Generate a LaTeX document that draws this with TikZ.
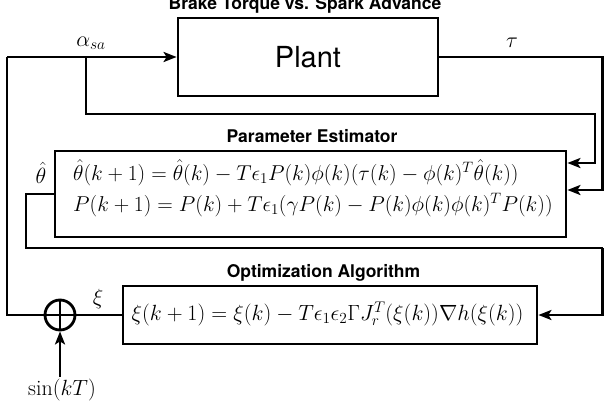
\RequirePackage{fix-cm}
\documentclass[tikz,border=0pt]{standalone}
\usepackage{fontspec}
\newfontfamily\heros{TeX Gyre Heros}
\usetikzlibrary{arrows.meta,calc}
\begin{document}
\begin{tikzpicture}[x=1pt,y=-1pt,
  wire/.style={line width=2.8pt},
  arr/.style={wire,-{Stealth[length=13pt,width=10pt,inset=3pt]}},
  block/.style={draw,line width=2.8pt,rectangle,inner sep=0pt},
  ttl/.style={font=\heros\bfseries\fontsize{17.5}{20}\selectfont,anchor=base,inner sep=0pt},
  mth/.style={font=\fontsize{22}{26}\selectfont,inner sep=0pt},
  eqn/.style={font=\fontsize{21.5}{26}\selectfont,inner sep=0pt}]
\useasboundingbox (0,0) rectangle (605,412);

% blocks
\node[block,minimum width=260pt,minimum height=78pt,font=\heros\fontsize{29}{32}\selectfont]
  (plant) at (308,57) {Plant};
\node[block,minimum width=511pt,minimum height=86pt] (pe) at (310.5,194) {};
\node[block,minimum width=414pt,minimum height=58pt] (opt) at (330,315) {};
\node[draw,circle,line width=2.8pt,minimum size=30pt,inner sep=0pt] (sum) at (60,315) {};
\draw[line width=1.6pt] (sum.north) -- (sum.south) (sum.west) -- (sum.east);

% titles
\node[ttl] (tplant) at (305,9.5) {Brake Torque vs. Spark Advance};
\node[ttl] (tpe) at (312,142) {Parameter Estimator};
\node[ttl] (topt) at (323.5,277) {Optimization Algorithm};

% equations
\node[eqn,anchor=base west] (eq1) at (73,180)
  {$\hat\theta(k+1)=\hat\theta(k)-T\epsilon_1P(k)\phi(k)(\tau(k)-\phi(k)^T\hat\theta(k))$};
\node[eqn,anchor=base west] (eq2) at (73,211)
  {$P(k+1)=P(k)+T\epsilon_1(\gamma P(k)-P(k)\phi(k)\phi(k)^TP(k))$};
\node[mth,anchor=base] (eq3) at (327.5,320)
  {$\xi(k+1)=\xi(k)-T\epsilon_1\epsilon_2\Gamma J_r^T(\xi(k))\nabla h(\xi(k))$};

% signal labels
\node[mth] (lalpha) at (91,43) {$\alpha_{sa}$};
\node[mth] (ltau) at (512,43) {$\tau$};
\node[mth] (ltheta) at (41,173) {$\hat\theta$};
\node[mth] (lxi) at (98,299) {$\xi$};
\node[mth] (lsin) at (62,390) {$\sin(kT)$};

% bend points
\coordinate (aL) at (7,57);
\coordinate (aB) at (86,57);
\coordinate (aR) at (595,114);
\coordinate (tR) at (602.5,57);
\coordinate (thL) at (26,248);
\coordinate (thR) at (602.5,248);
\coordinate (sinT) at (60,377);

% connectors
\draw[arr] (aL) -- (plant.west);
\draw[arr] (aB) |- (aR) |- ([yshift=31pt]pe.east);
\draw[arr] (plant.east) -- (tR) |- ([yshift=4pt]pe.east);
\draw[wire] (pe.west) -| (thL) -- (thR);
\draw[arr] (thR) |- (opt.east);
\draw[wire] (opt.west) -- (sum.east);
\draw[wire] (sum.west) -| (aL);
\draw[arr] (sinT) -- (sum.south);
\end{tikzpicture}
\end{document}
